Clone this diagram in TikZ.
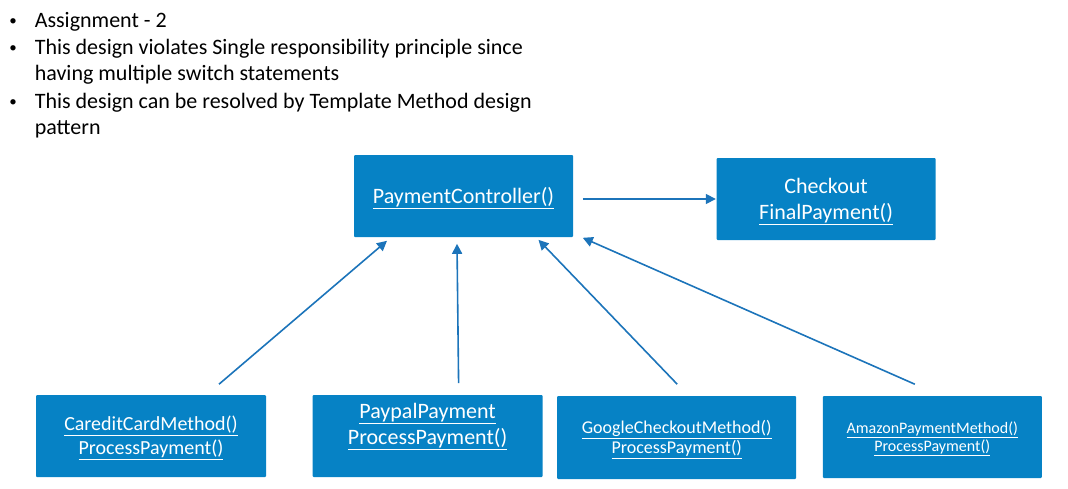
\documentclass[tikz,border=0pt]{standalone}
\usepackage{fontspec}
\setmainfont{Carlito}
\usetikzlibrary{arrows.meta,positioning}
\definecolor{boxblue}{RGB}{6,130,197}
\definecolor{arrowblue}{RGB}{28,116,186}

\begin{document}
\begin{tikzpicture}[->,>={Triangle[length=10pt,width=10pt]},x=1pt,y=-1pt,line width=1.6pt,
  box node/.style={rectangle,fill=boxblue,text=white,minimum width=219pt,minimum height=82pt,rounded corners=1pt,align=center,inner sep=0pt,text depth=1pt},
  bullet text/.style={anchor=base west,inner sep=0pt,font=\fontsize{22}{26}\selectfont},
  bullet dot/.style={anchor=base,inner sep=0pt,font=\fontsize{15}{18}\selectfont}]

            \useasboundingbox (0,0) rectangle (1068,488);

            % bullet list
            \node[bullet dot] (b1) at (13,25) {\textbullet};
            \node[bullet text] (t1) at (34,27) {Assignment - 2};
            \node[bullet dot] (b2) at (13,52) {\textbullet};
            \node[bullet text] (t2) at (34,54) {This design violates Single responsibility principle since};
            \node[bullet text] (t3) at (34,80) {having multiple switch statements};
            \node[bullet dot] (b4) at (13,106) {\textbullet};
            \node[bullet text] (t4) at (34,108) {This design can be resolved by Template Method design};
            \node[bullet text] (t5) at (34,134) {pattern};

            % boxes
            \node[box node,font=\fontsize{22}{26}\selectfont] (ctrl) at (463.5,196) {\underline{PaymentController()}};
            \node[box node,font=\fontsize{22}{26}\selectfont] (checkout) [right=142pt of ctrl,yshift=-3pt] {Checkout\\\underline{FinalPayment()}};
            \node[box node,minimum width=230pt,font=\fontsize{20}{24}\selectfont] (credit) at (151,436) {\underline{CareditCardMethod()}\\\underline{ProcessPayment()}};
            \node[box node,minimum width=230pt,text depth=24pt,font=\fontsize{22}{26}\selectfont] (paypal) [right=45pt of credit] {\underline{PaypalPayment}\\\underline{ProcessPayment()}};
            \node[box node,minimum width=239pt,minimum height=83pt,font=\fontsize{18}{20}\selectfont] (google) [right=13pt of paypal,yshift=-1.5pt] {\underline{GoogleCheckoutMethod()}\\\underline{ProcessPayment()}};
            \node[box node,font=\fontsize{16}{18}\selectfont] (amazon) [right=25pt of google,yshift=0.5pt] {\underline{AmazonPaymentMethod()}\\\underline{ProcessPayment()}};

            \path[color=arrowblue]
                ([xshift=9pt,yshift=-3pt]ctrl.east) edge (checkout.west)
                ([xshift=68pt,yshift=10pt]credit.north) edge ([xshift=-76.5pt,yshift=-3pt]ctrl.south)
                ([xshift=31pt,yshift=11pt]paypal.north) edge ([xshift=-6.5pt,yshift=-6pt]ctrl.south)
                ([xshift=0.5pt,yshift=11pt]google.north) edge ([xshift=75pt,yshift=-2pt]ctrl.south)
                ([xshift=-17.5pt,yshift=11pt]amazon.north) edge ([xshift=9pt,yshift=0pt]ctrl.south east)
                ;
\end{tikzpicture}
\end{document}
